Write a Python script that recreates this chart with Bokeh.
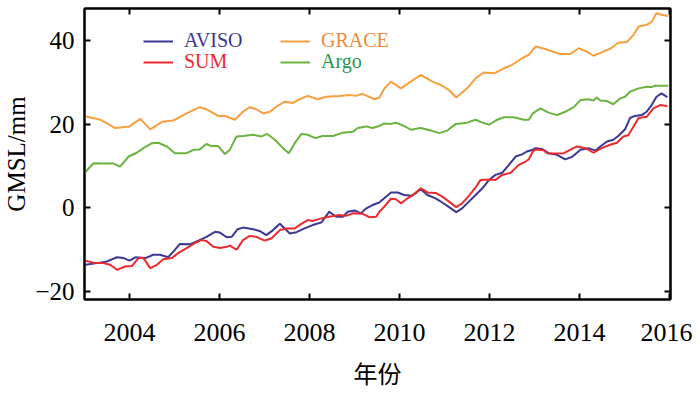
from bokeh.plotting import figure
from bokeh.models import (Range1d, LinearAxis, FixedTicker, Legend, LegendItem)
from bokeh.embed import file_html
from bokeh.resources import INLINE

# ---------------- data ----------------
grace_t = [2003.02, 2003.06, 2003.35, 2003.68, 2004.00, 2004.24, 2004.46, 2004.72, 2004.97,
           2005.27, 2005.56, 2005.71, 2005.97, 2006.12, 2006.34, 2006.52, 2006.67, 2006.82,
           2006.97, 2007.12, 2007.26, 2007.45, 2007.63, 2007.78, 2007.96, 2008.18, 2008.37,
           2008.66, 2008.89, 2009.03, 2009.18, 2009.44, 2009.55, 2009.66, 2009.81, 2010.03,
           2010.25, 2010.47, 2010.73, 2010.92, 2011.10, 2011.26, 2011.50, 2011.69, 2011.87,
           2012.10, 2012.32, 2012.50, 2012.72, 2012.87, 2013.02, 2013.24, 2013.39, 2013.57,
           2013.79, 2013.98, 2014.16, 2014.31, 2014.49, 2014.70, 2014.86, 2015.05, 2015.20,
           2015.31, 2015.49, 2015.60, 2015.71, 2015.82, 2015.97]
grace_v = [22.0, 21.8, 21.1, 19.1, 19.5, 21.3, 18.8, 20.6, 20.9,
           22.6, 24.1, 23.6, 22.0, 22.0, 21.1, 23.0, 24.1, 23.6,
           22.6, 23.0, 24.2, 25.4, 25.1, 26.0, 26.8, 26.0, 26.6,
           26.8, 27.0, 26.8, 27.3, 26.0, 26.4, 28.5, 30.2, 28.6,
           30.2, 31.8, 30.2, 29.4, 28.2, 26.4, 28.6, 31.0, 32.4,
           32.2, 33.4, 34.2, 35.8, 36.6, 38.6, 38.0, 37.4, 36.8,
           36.8, 38.2, 37.4, 36.4, 37.2, 38.2, 39.5, 39.7, 41.4,
           43.4, 43.8, 44.5, 46.6, 46.2, 45.9]

argo_t = [2003.02, 2003.20, 2003.42, 2003.65, 2003.79, 2003.98, 2004.16, 2004.31, 2004.50,
          2004.64, 2004.83, 2005.01, 2005.27, 2005.42, 2005.56, 2005.71, 2005.82, 2005.97,
          2006.12, 2006.23, 2006.30, 2006.38, 2006.52, 2006.75, 2006.93, 2007.06, 2007.23,
          2007.41, 2007.54, 2007.67, 2007.82, 2007.96, 2008.13, 2008.29, 2008.52, 2008.74,
          2008.96, 2009.07, 2009.26, 2009.40, 2009.55, 2009.66, 2009.81, 2009.92, 2010.10,
          2010.25, 2010.47, 2010.70, 2010.88, 2011.06, 2011.25, 2011.50, 2011.69, 2011.84,
          2011.99, 2012.17, 2012.32, 2012.54, 2012.76, 2012.87, 2012.96, 2013.13, 2013.31,
          2013.50, 2013.68, 2013.87, 2014.02, 2014.20, 2014.31, 2014.38, 2014.46, 2014.60,
          2014.75, 2014.90, 2015.01, 2015.12, 2015.31, 2015.49, 2015.60, 2015.66, 2015.97]
argo_v = [8.6, 10.7, 10.6, 10.6, 9.9, 12.3, 13.2, 14.3, 15.5,
          15.6, 14.7, 13.1, 13.1, 13.9, 14.0, 15.3, 14.8, 14.8,
          12.9, 13.9, 15.5, 17.1, 17.2, 17.5, 17.1, 17.7, 16.3,
          14.3, 13.1, 15.5, 17.7, 17.5, 16.7, 17.2, 17.2, 18.0,
          18.2, 19.1, 19.5, 19.1, 19.6, 20.2, 20.1, 20.4, 19.6,
          18.7, 19.1, 18.5, 17.9, 18.5, 20.1, 20.4, 21.1, 20.4,
          19.9, 21.1, 21.7, 21.7, 21.1, 21.1, 22.6, 23.8, 22.8,
          22.2, 23.0, 24.1, 25.8, 26.0, 25.7, 26.4, 25.7, 25.6,
          24.8, 26.2, 26.6, 27.8, 28.6, 29.0, 28.9, 29.2, 29.2]

aviso_t = [2003.02, 2003.28, 2003.50, 2003.72, 2003.87, 2004.00, 2004.13, 2004.35, 2004.53,
           2004.68, 2004.86, 2004.97, 2005.12, 2005.34, 2005.53, 2005.71, 2005.90, 2006.01,
           2006.16, 2006.27, 2006.40, 2006.52, 2006.75, 2006.89, 2007.04, 2007.19, 2007.34,
           2007.45, 2007.56, 2007.71, 2007.89, 2008.07, 2008.26, 2008.44, 2008.59, 2008.74,
           2008.85, 2009.00, 2009.14, 2009.26, 2009.40, 2009.55, 2009.66, 2009.81, 2009.96,
           2010.10, 2010.28, 2010.47, 2010.62, 2010.80, 2010.95, 2011.10, 2011.26, 2011.39,
           2011.54, 2011.69, 2011.84, 2011.99, 2012.13, 2012.28, 2012.43, 2012.58, 2012.72,
           2012.83, 2012.96, 2013.02, 2013.17, 2013.31, 2013.50, 2013.68, 2013.83, 2014.02,
           2014.20, 2014.35, 2014.46, 2014.61, 2014.75, 2014.86, 2015.01, 2015.12, 2015.23,
           2015.38, 2015.49, 2015.60, 2015.71, 2015.82, 2015.95]
aviso_v = [-13.6, -13.2, -12.8, -11.8, -12.0, -12.6, -11.8, -12.0, -11.2,
           -11.2, -11.8, -10.5, -8.6, -8.7, -7.8, -6.9, -5.7, -5.9,
           -7.0, -6.9, -5.1, -4.7, -5.1, -5.5, -6.5, -5.3, -3.8,
           -4.9, -6.1, -5.8, -4.9, -4.1, -3.5, -0.9, -2.1, -2.1,
           -0.9, -0.6, -1.3, -0.1, 0.7, 1.3, 2.3, 3.7, 3.7,
           3.1, 2.9, 4.5, 3.1, 2.3, 1.3, 0.2, -1.0, -0.1,
           1.5, 3.1, 4.7, 6.7, 7.9, 8.4, 10.3, 12.3, 12.8,
           13.5, 13.9, 14.3, 14.1, 13.1, 12.7, 11.6, 12.2, 13.9,
           14.3, 13.7, 14.7, 15.9, 16.3, 17.2, 18.8, 21.5, 22.0,
           22.2, 23.0, 24.6, 26.6, 27.4, 26.5]

sum_t = [2003.02, 2003.20, 2003.42, 2003.57, 2003.72, 2003.90, 2004.05, 2004.20, 2004.31,
         2004.46, 2004.61, 2004.75, 2004.94, 2005.08, 2005.27, 2005.45, 2005.60, 2005.71,
         2005.86, 2006.01, 2006.16, 2006.23, 2006.38, 2006.52, 2006.67, 2006.82, 2007.00,
         2007.15, 2007.34, 2007.49, 2007.67, 2007.82, 2007.96, 2008.07, 2008.26, 2008.44,
         2008.66, 2008.81, 2008.96, 2009.18, 2009.33, 2009.48, 2009.55, 2009.66, 2009.81,
         2009.92, 2010.03, 2010.18, 2010.32, 2010.47, 2010.62, 2010.80, 2010.95, 2011.10,
         2011.26, 2011.39, 2011.54, 2011.69, 2011.80, 2011.99, 2012.13, 2012.28, 2012.47,
         2012.65, 2012.80, 2012.87, 2012.96, 2013.02, 2013.20, 2013.28, 2013.46, 2013.65,
         2013.94, 2014.13, 2014.31, 2014.49, 2014.68, 2014.83, 2014.97, 2015.08, 2015.20,
         2015.31, 2015.49, 2015.64, 2015.79, 2015.95]
sum_v = [-12.6, -13.1, -13.2, -13.6, -14.8, -14.0, -13.9, -12.0, -12.0,
         -14.4, -13.6, -12.3, -12.0, -10.8, -9.6, -8.4, -7.7, -7.9,
         -9.3, -9.6, -9.3, -9.0, -10.0, -7.7, -6.7, -6.9, -7.8,
         -7.3, -5.3, -4.9, -4.9, -3.8, -2.9, -3.1, -2.5, -2.1,
         -1.7, -1.9, -1.3, -1.4, -2.2, -2.1, -0.9, 0.3, 2.2,
         2.1, 1.1, 2.3, 3.3, 4.7, 3.7, 3.6, 2.7, 1.5,
         0.2, 1.1, 2.9, 4.9, 6.7, 6.8, 6.7, 7.9, 8.4,
         10.3, 11.1, 11.6, 13.5, 14.0, 13.8, 13.1, 13.0, 13.1,
         14.7, 14.3, 13.2, 14.3, 15.1, 15.6, 17.1, 17.4, 19.5,
         21.5, 21.8, 23.8, 24.6, 24.4]

x_ticks = [2004, 2006, 2008, 2010, 2012, 2014, 2016]
y_ticks = [-20, 0, 20, 40]
y_tick_labels = {-20: "\u221220", 0: "0", 20: "20", 40: "40"}

# ---------------- figure ----------------
SERIF = "Liberation Serif"

p = figure(width=692, height=392, output_backend="svg", toolbar_location=None,
           x_range=Range1d(2003.0, 2016.02), y_range=Range1d(-21.9, 47.7),
           min_border_left=70, min_border_right=22, min_border_top=8, min_border_bottom=85)
p.background_fill_color = "white"
p.border_fill_color = "white"
p.outline_line_color = "black"
p.outline_line_width = 2
p.xgrid.visible = False
p.ygrid.visible = False

c_aviso = "#3b3794"
c_sum = "#ec2a2e"
c_grace = "#f8a03f"
c_argo = "#6ab43f"

r_grace = p.line(grace_t, grace_v, line_color=c_grace, line_width=2)
r_argo = p.line(argo_t, argo_v, line_color=c_argo, line_width=2)
r_aviso = p.line(aviso_t, aviso_v, line_color=c_aviso, line_width=2)
r_sum = p.line(sum_t, sum_v, line_color=c_sum, line_width=2)

def style_axis(ax, ticks, show_labels, font_size):
    ax.ticker = FixedTicker(ticks=ticks)
    ax.axis_line_color = "black"
    ax.axis_line_width = 2
    ax.major_tick_line_color = "black"
    ax.major_tick_line_width = 2
    ax.major_tick_in = 6
    ax.major_tick_out = 0
    ax.minor_tick_line_color = None
    ax.major_label_text_font = SERIF
    ax.major_label_text_font_size = font_size
    if show_labels:
        ax.major_label_text_color = "black"
    else:
        ax.major_label_text_color = None
        ax.major_label_standoff = 0

xa = p.xaxis[0]
style_axis(xa, x_ticks, True, "26px")
xa.major_label_standoff = 24
xa.axis_label = "年份"
xa.axis_label_text_font = "Noto Sans CJK SC"
xa.axis_label_text_font_size = "24px"
xa.axis_label_text_font_style = "normal"
xa.axis_label_text_color = "black"
xa.axis_label_standoff = 11

ya = p.yaxis[0]
style_axis(ya, y_ticks, True, "25px")
ya.major_label_overrides = y_tick_labels
ya.major_label_standoff = 10
ya.axis_label = "GMSL/mm"
ya.axis_label_text_font = SERIF
ya.axis_label_text_font_size = "25px"
ya.axis_label_text_font_style = "normal"
ya.axis_label_text_color = "black"
ya.axis_label_standoff = 2

top_ax = LinearAxis()
style_axis(top_ax, x_ticks, False, "1px")
p.add_layout(top_ax, "above")
right_ax = LinearAxis()
style_axis(right_ax, y_ticks, False, "1px")
p.add_layout(right_ax, "right")

# ---------------- legend (one per entry so each text has its colour) ----------------
legend_specs = [
    ("AVISO", r_aviso, c_aviso, (59, 247)),
    ("SUM", r_sum, c_sum, (59, 226)),
    ("GRACE", r_grace, "#f08a3a", (196, 247)),
    ("Argo", r_argo, "#1f9a4c", (196, 226)),
]
for label, rend, col, loc in legend_specs:
    lg = Legend(items=[LegendItem(label=label, renderers=[rend])], location=loc,
                label_text_color=col, label_text_font=SERIF, label_text_font_size="20px",
                glyph_width=30, glyph_height=20, label_height=20, label_standoff=11,
                padding=0, margin=0, spacing=0, border_line_color=None,
                background_fill_alpha=0)
    p.add_layout(lg)

open("out.html", "w").write(file_html(p, INLINE))
